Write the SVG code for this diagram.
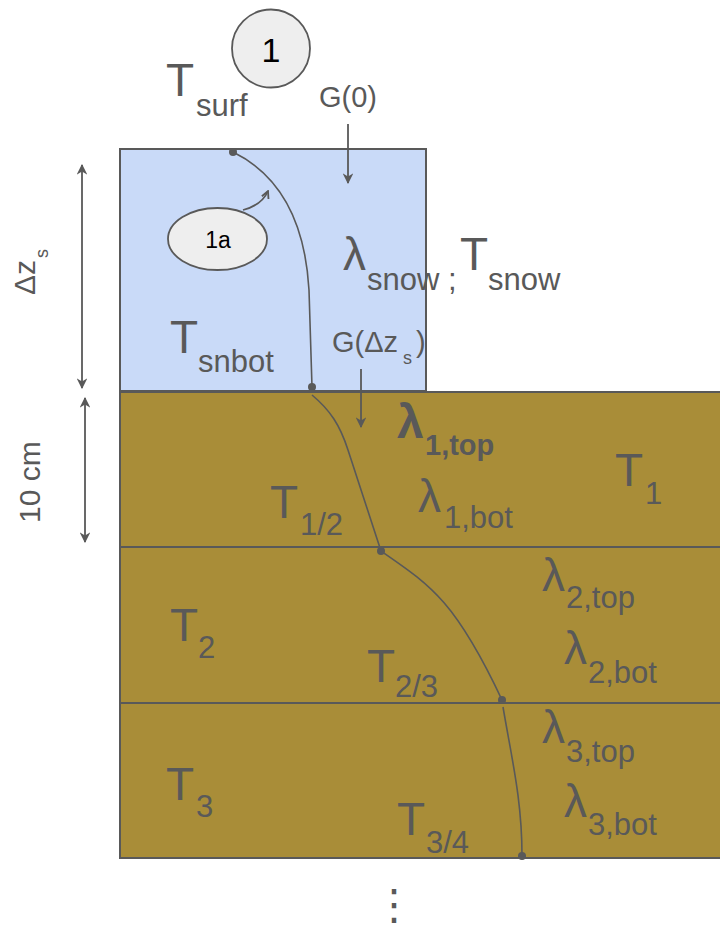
<svg xmlns="http://www.w3.org/2000/svg" width="720" height="930" viewBox="0 0 720 930">
<style>
.t{font-family:"Liberation Sans",Arial,sans-serif;fill:#595959}
.big{font-size:46px}
.sub{font-size:31px}
.bold{font-weight:bold}
.edge{stroke:#595959;stroke-width:2}
.snow{fill:#c9daf8}
.soil{fill:#a98d38}
.prof{fill:none;stroke:#595959;stroke-width:1.6}
.dot{fill:#595959}
.arr{fill:none;stroke:#595959;stroke-width:1.8}
.bub{fill:#eeeeee;stroke:#595959;stroke-width:1.8}
</style>
<defs>
<marker id="ah" viewBox="0 0 10 10" refX="9" refY="5" markerWidth="6" markerHeight="6" orient="auto-start-reverse" markerUnits="strokeWidth">
<path d="M0,0 L10,5 L0,10 L3,5 z" fill="#595959"/>
</marker>
<marker id="oh" viewBox="0 0 10 10" refX="9" refY="5" markerWidth="5" markerHeight="5" orient="auto" markerUnits="strokeWidth">
<path d="M1,1 L9,5 L1,9" fill="none" stroke="#595959" stroke-width="2"/>
</marker>
</defs>
<rect width="720" height="930" fill="#ffffff"/>

<g id="snow-layer">
<rect class="snow edge" x="120" y="149" width="306" height="242"/>
</g>
<g id="soil-layer-1">
<rect class="soil edge" x="120" y="392" width="610" height="155"/>
</g>
<g id="soil-layer-2">
<rect class="soil edge" x="120" y="547" width="610" height="156"/>
</g>
<g id="soil-layer-3">
<rect class="soil edge" x="120" y="703" width="610" height="155"/>
</g>

<g id="bubble-1">
<circle class="bub" cx="271" cy="48.5" r="39"/>
<text x="271" y="62" text-anchor="middle" font-family="Liberation Sans, Arial, sans-serif" font-size="34" fill="#000">1</text>
</g>
<g id="bubble-1a">
<ellipse class="bub" cx="217.5" cy="239" rx="49.5" ry="31"/>
<text x="218" y="248" text-anchor="middle" font-family="Liberation Sans, Arial, sans-serif" font-size="23" fill="#000">1a</text>
</g>

<g id="temperature-profile">
<path class="prof" d="M233,152 C280,175 305,220 309,290 L312,387"/>
<path class="prof" d="M312,395 C330,410 340,425 348,450 L381,551"/>
<path class="prof" d="M381,551 C430,585 455,600 502,700"/>
<path class="prof" d="M503,707 C512,760 522,800 522,856"/>
<circle class="dot" cx="233" cy="152" r="4"/>
<circle class="dot" cx="312" cy="387" r="4"/>
<circle class="dot" cx="381" cy="551" r="4"/>
<circle class="dot" cx="502" cy="700" r="4"/>
<circle class="dot" cx="522" cy="856" r="4"/>
</g>

<g id="connectors">
<line class="arr" x1="348" y1="124" x2="348" y2="183" marker-end="url(#ah)"/>
<line class="arr" x1="361" y1="369" x2="361" y2="427" marker-end="url(#ah)"/>
<line class="arr" x1="82" y1="165" x2="82" y2="388" stroke-width="1.5" marker-start="url(#ah)" marker-end="url(#ah)"/>
<line class="arr" x1="85" y1="398" x2="85" y2="542" stroke-width="1.5" marker-start="url(#ah)" marker-end="url(#ah)"/>
<path class="arr" d="M243,210 Q262,205 268,191" marker-end="url(#oh)"/>
</g>

<g id="labels">
<text class="t big"><tspan x="166" y="96">T</tspan><tspan class="sub" x="196" y="116">surf</tspan></text>
<text class="t" x="319" y="107" font-size="29">G(0)</text>
<text class="t big"><tspan x="343" y="270">λ</tspan><tspan class="sub" x="367" y="290">snow ;</tspan><tspan x="460" y="270">T</tspan><tspan class="sub" x="488" y="290">snow</tspan></text>
<text class="t big"><tspan x="170" y="353">T</tspan><tspan class="sub" x="198" y="372">snbot</tspan></text>
<text class="t" font-size="29"><tspan x="332" y="352">G(Δz</tspan><tspan x="403" y="364" font-size="18">s</tspan><tspan x="416" y="352">)</tspan></text>
<text class="t bold" font-size="48"><tspan x="397" y="438">λ</tspan><tspan x="425" y="455" font-size="29">1,top</tspan></text>
<text class="t big"><tspan x="615" y="486">T</tspan><tspan class="sub" x="645" y="504">1</tspan></text>
<text class="t big"><tspan x="418" y="512">λ</tspan><tspan class="sub" x="444" y="528">1,bot</tspan></text>
<text class="t big"><tspan x="270" y="518">T</tspan><tspan class="sub" x="300" y="535">1/2</tspan></text>
<text class="t big"><tspan x="170" y="641">T</tspan><tspan class="sub" x="198" y="658">2</tspan></text>
<text class="t big"><tspan x="367" y="682">T</tspan><tspan class="sub" x="395" y="697">2/3</tspan></text>
<text class="t big"><tspan x="542" y="591">λ</tspan><tspan class="sub" x="566" y="608">2,top</tspan></text>
<text class="t big"><tspan x="564" y="664">λ</tspan><tspan class="sub" x="588" y="683">2,bot</tspan></text>
<text class="t big"><tspan x="542" y="743">λ</tspan><tspan class="sub" x="566" y="762">3,top</tspan></text>
<text class="t big"><tspan x="564" y="817">λ</tspan><tspan class="sub" x="588" y="835">3,bot</tspan></text>
<text class="t big"><tspan x="166" y="800">T</tspan><tspan class="sub" x="196" y="817">3</tspan></text>
<text class="t big"><tspan x="397" y="835">T</tspan><tspan class="sub" x="426" y="853">3/4</tspan></text>
<text class="t" font-size="30" transform="translate(35,295) rotate(-90)"><tspan x="0" y="0">Δz</tspan><tspan x="37" y="13" font-size="18">s</tspan></text>
<text class="t" font-size="30" transform="translate(40,523) rotate(-90)">10 cm</text>
<text x="394" y="919" text-anchor="middle" font-family="DejaVu Sans, sans-serif" font-size="42" fill="#595959">⋮</text>
</g>
</svg>
